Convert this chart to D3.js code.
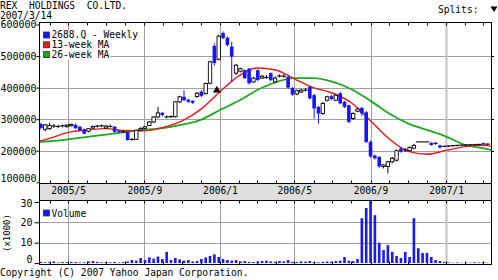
<!DOCTYPE html>
<html><head><meta charset="utf-8">
<script src="https://cdn.jsdelivr.net/npm/d3@7"></script>
<style>
body{margin:0;background:#fff;}
svg{display:block;}
text{font-family:"DejaVu Sans Mono","Liberation Mono",monospace;fill:#000;white-space:pre;}
</style>
</head><body>
<svg id="c" width="498" height="280"></svg>
<script>
// ---------------- data ----------------
const title = "REX  HOLDINGS  CO.LTD.";
const asOf = "2007/3/14";
const seriesName = "2688.Q - Weekly";
const firstWeek = new Date(2005, 2, 18);   // first weekly bar (Friday)
// weekly prices, thousand yen
const open = [285,268,270,277,278,277,276,279,282,276, 268,262,272,277,278,272,278,276,264,262,
  259,236,236,266,271,280,291,307,320,307, 307,308,355,371,362,358,372,387,381,414,
  532,490,573,558,530,446,452,455,460,418, 455,430,432,446,418,436,437,434,399,380,
  386,392,402,376,339,318,360,373,360,382, 355,344,302,325,336,322,228,185,180,150,
  150,165,170,207,200,200,208,228,228,228, 225,221,217,214,214,215,216,217,218,218,
  219,219,224,220];
const high = [288,285,288,285,282,283,284,286,286,279, 270,272,280,282,283,282,283,278,266,265,
  262,240,267,274,279,294,310,339,323,312, 312,357,374,392,364,360,386,392,416,485,
  540,568,578,562,545,475,463,458,462,434, 458,440,440,448,436,442,443,438,402,394,
  396,398,405,380,342,355,374,377,380,386, 358,346,322,336,338,326,232,188,183,158,
  168,180,204,212,208,214,222,228,228,228, 227,226,219,216,217,218,219,219,221,220,
  222,222,226,223];
const low = [268,262,266,272,272,274,274,277,270,263, 252,258,270,274,275,270,273,258,257,257,
  232,232,234,262,268,278,288,304,309,303, 304,305,352,358,352,348,368,370,378,410,
  470,486,553,530,418,440,448,428,410,415, 420,428,428,420,414,432,432,396,374,376,
  383,388,362,302,286,314,356,360,358,348, 335,288,298,322,310,224,178,172,146,144,
  128,160,166,194,196,197,205,228,228,228, 216,219,208,212,212,213,214,215,216,216,
  217,217,218,218];
const close = [272,282,280,278,277,279,281,283,271,265, 254,270,277,278,279,278,277,260,260,260,
  234,236,265,271,276,291,307,320,313,307, 308,355,371,360,355,352,382,374,413,482,
  478,563,557,535,498,471,460,430,414,430, 424,436,432,424,430,437,436,400,378,390,
  392,392,366,334,318,350,371,364,376,350, 339,291,318,332,318,228,182,176,150,155,
  165,176,200,197,203,210,217,228,228,228, 218,224,210,214,215,216,217,218,218,219,
  219,220,219,221];
// volume, thousand shares
const volume = [0.6,0.4,0.5,0.8,0.3,0.5,0.4,0.6, 0.5,0.3,0.4,0.8,1.0,0.6,0.4,0.5,
  0.4,0.6,0.3,0.5,0.8,1.5,1.2,2.5, 1.5,2.8,2.2,3.2,2.0,5.5,1.5,2.5,
  1.8,1.2,1.5,0.8,1.0,2.0,2.8,3.5, 4.3,3.0,2.0,1.5,1.2,1.5,0.8,1.0,
  0.6,0.5,0.8,1.0,1.2,0.8,0.6,1.0, 0.8,1.5,0.6,0.5,0.8,0.7,1.0,0.5,
  0.4,0.6,0.8,0.7, 1.0,1.2,3.0, 1.2,1.0,2.0,22,27,34,23.5,10,
  6.4,8.8,5.5,3.5,2.5,5.5,3.0,22, 7.3,5.0,5.0,3.0,1.5,1.0,0.5,0.3,
  0.2,0.3,0.2,0.3,0.2,0.4,0.3,0.5,0.2];
// moving averages, thousand yen
const maDates = ["2005-03-15","2005-04-01","2005-05-01","2005-06-01","2005-07-01","2005-08-01","2005-09-01",
  "2005-10-01","2005-11-01","2005-12-01","2006-01-01","2006-02-01","2006-03-01","2006-04-01","2006-05-01",
  "2006-06-01","2006-07-01","2006-08-01","2006-09-01","2006-10-01","2006-11-01","2006-12-01","2007-01-01",
  "2007-02-01","2007-03-01","2007-03-16"];
const ma13 = [230,239,258,266,270,264,263,274,295,331,387,438,462,456,428,400,383,352,295,238,198,189,201,213,217,214];
const ma26 = [228,230,236,244,251,259,266,272,283,298,329,359,391,417,430,430,419,395,358,318,286,266,245,218,208,202];
const splitDates = ["2005-12-27"];
const splitPrices = [392];
const priceTicks = [100,200,300,400,500,600];
const priceTickLabels = ["100000","200000","300000","400000","500000","600000"];
const volumeTicks = [0,10,20,30];
const dateTicks = ["2005-05-01","2005-09-01","2006-01-01","2006-05-01","2006-09-01","2007-01-01"];
const dateLabels = ["2005/5","2005/9","2006/1","2006/5","2006/9","2007/1"];
const legendNames = [seriesName, "13-week MA", "26-week MA"];
const colors = {down:"#1515f5", up:"#ffffff", ma13:"#e81818", ma26:"#1fa81f", vol:"#1a1af0"};

// ---------------- chart ----------------
const pd = d3.timeParse("%Y-%m-%d");
const svg = d3.select("#c");
const L = 39, R = 492, PT = 22.5, PB = 183.5, BB = 200.5, VB = 264.5;
const x = d3.scaleTime().domain([new Date(2005,2,15), new Date(2007,2,16)]).range([L, R]);
const y = d3.scaleLinear().domain([100, 600]).range([182.3, 24.5]);
const yv = d3.scaleLinear().domain([0, 30]).range([263.1, 201.9]);
const weekDate = i => d3.timeDay.offset(firstWeek, 7 * i);
const bars = open.map((o, i) => ({d: weekDate(i), o, h: high[i], l: low[i], c: close[i], v: volume[i]}));

svg.append("defs").append("clipPath").attr("id","vclip")
  .append("rect").attr("x", L).attr("y", BB).attr("width", R - L).attr("height", VB - BB);

// date band
svg.append("rect").attr("x", L).attr("y", PB).attr("width", R - L).attr("height", BB - PB).attr("fill", "#dedede");

// grid
const grid = svg.append("g");
grid.selectAll(".hg").data(priceTicks.filter(v => v > 100 && v < 600)).join("line")
  .attr("x1", L).attr("x2", R + 2)
  .attr("y1", d => Math.round(y(d)) + 0.5).attr("y2", d => Math.round(y(d)) + 0.5)
  .attr("stroke", "#a0a0a0");
grid.selectAll(".vhg").data([10, 20]).join("line")
  .attr("x1", L).attr("x2", R)
  .attr("y1", d => Math.round(yv(d)) + 0.5).attr("y2", d => Math.round(yv(d)) + 0.5)
  .attr("stroke", "#a0a0a0");
dateTicks.forEach((s, k) => {
  const xx = Math.round(x(pd(s))) + 0.5;
  const last = k === dateTicks.length - 1;
  [[PT, PB], [BB, VB]].forEach(([a, b]) => {
    grid.append("line").attr("x1", xx).attr("x2", xx).attr("y1", a).attr("y2", b)
      .attr("stroke", last ? "#c4c4c4" : "#a0a0a0").attr("stroke-width", last ? 2 : 1);
  });
});

// monthly ticks
const months = d3.timeMonth.range(new Date(2005,3,1), new Date(2007,2,17));
const tk = svg.append("g").attr("stroke", "#000");
months.forEach(m => {
  const xx = Math.round(x(m)) + 0.5;
  tk.append("line").attr("x1", xx).attr("x2", xx).attr("y1", PT).attr("y2", PT + 3);
  tk.append("line").attr("x1", xx).attr("x2", xx).attr("y1", PB - 3).attr("y2", PB);
  tk.append("line").attr("x1", xx).attr("x2", xx).attr("y1", BB).attr("y2", BB + 3);
  tk.append("line").attr("x1", xx).attr("x2", xx).attr("y1", VB - 3).attr("y2", VB);
});

// MA lines
const maLine = vals => d3.line().x((d, i) => x(pd(maDates[i]))).y(d => y(d)).curve(d3.curveMonotoneX)(vals);
svg.append("path").attr("d", maLine(ma26)).attr("fill", "none").attr("stroke", colors.ma26).attr("stroke-width", 1.8);
svg.append("path").attr("d", maLine(ma13)).attr("fill", "none").attr("stroke", colors.ma13).attr("stroke-width", 1.4);

// candles
const cg = svg.append("g");
bars.forEach(b => {
  const cx = x(b.d);
  const isUp = b.c > b.o, isFlat = Math.abs(y(b.o) - y(b.c)) < 1;
  const col = (isUp || isFlat) ? "#000" : colors.down;
  cg.append("line").attr("x1", cx).attr("x2", cx).attr("y1", y(b.h)).attr("y2", y(b.l))
    .attr("stroke", col).attr("stroke-width", 1);
  if (isFlat) {
    cg.append("line").attr("x1", cx - 2.2).attr("x2", cx + 2.2).attr("y1", y(b.c)).attr("y2", y(b.c))
      .attr("stroke", "#000").attr("stroke-width", 1.1);
  } else if (isUp) {
    cg.append("rect").attr("x", cx - 1.7).attr("width", 3.4)
      .attr("y", y(b.c)).attr("height", y(b.o) - y(b.c))
      .attr("fill", colors.up).attr("stroke", "#000").attr("stroke-width", 0.9);
  } else {
    cg.append("rect").attr("x", cx - 1.8).attr("width", 3.6)
      .attr("y", y(b.o)).attr("height", y(b.c) - y(b.o)).attr("fill", colors.down);
  }
});

// split marker
splitDates.forEach((s, i) => {
  svg.append("path").attr("d", d3.symbol(d3.symbolTriangle, 26)())
    .attr("transform", `translate(${x(pd(s))},${y(splitPrices[i])})`).attr("fill", "#000");
});

// volume bars
svg.append("g").attr("clip-path", "url(#vclip)").selectAll("rect").data(bars).join("rect")
  .attr("x", d => x(d.d) - 1.3).attr("width", 2.6)
  .attr("y", d => yv(d.v)).attr("height", d => yv(0) - yv(d.v))
  .attr("fill", colors.vol);

// frames
const fr = svg.append("g").attr("fill", "none").attr("stroke", "#000");
fr.append("rect").attr("x", L + 0.5).attr("y", PT).attr("width", R - L - 1).attr("height", PB - PT);
fr.append("rect").attr("x", L + 0.5).attr("y", PB).attr("width", R - L - 1).attr("height", BB - PB);
fr.append("rect").attr("x", L + 0.5).attr("y", BB).attr("width", R - L - 1).attr("height", VB - BB);

// price axis
const ya = svg.append("g").attr("transform", `translate(${L + 0.5},0)`)
  .call(d3.axisLeft(y).tickValues(priceTicks).tickSize(3).tickPadding(0)
    .tickFormat((d, i) => priceTickLabels[i]));
ya.select(".domain").remove();
ya.selectAll("text").style("font-size", "10px").attr("dy", "0.34em")
  .attr("y", function(d){ return d === 100 ? -4 : 0; });
ya.selectAll("text").style("font-family", '"DejaVu Sans Mono", monospace');

// right ticks
svg.append("g").selectAll("line").data(priceTicks.filter(v => v > 100 && v < 600)).join("line")
  .attr("x1", R - 0.5).attr("x2", R + 2).attr("y1", d => Math.round(y(d)) + 0.5).attr("y2", d => Math.round(y(d)) + 0.5)
  .attr("stroke", "#000");

// volume axis
const va = svg.append("g").attr("transform", `translate(${L + 0.5},0)`)
  .call(d3.axisLeft(yv).tickValues(volumeTicks).tickSize(5).tickPadding(2));
va.select(".domain").remove();
va.selectAll("text").style("font-size", "10px").style("font-family", '"DejaVu Sans Mono", monospace')
  .attr("y", d => d === 0 ? -3.5 : (d === 30 ? 1.5 : 0));

// date labels
const xa = svg.append("g").attr("transform", `translate(0,${PB})`)
  .call(d3.axisBottom(x).tickValues(dateTicks.map(pd)).tickSize(0).tickPadding(4)
    .tickFormat((d, i) => dateLabels[i]));
xa.select(".domain").remove();
xa.selectAll("text").style("font-size", "9.6px").style("font-family", '"DejaVu Sans Mono", monospace');

// titles
svg.append("text").attr("x", 0).attr("y", 9).attr("xml:space", "preserve").style("font-size", "9.6px").text(title);
svg.append("text").attr("x", 0).attr("y", 18.5).style("font-size", "9.6px").text(asOf);
svg.append("text").attr("x", 438).attr("y", 13).style("font-size", "9.6px").text("Splits:");
svg.append("path").attr("d", "M490.5,6.5 L497.5,6.5 L494,12 Z").attr("fill", "#000");

// legend
const lg = svg.append("g");
const legCols = [colors.down, colors.ma13, colors.ma26];
legendNames.forEach((n, k) => {
  const cy = 35 + k * 9.8;
  const bg = lg.append("rect").attr("x", 41).attr("y", cy - 5).attr("height", 10).attr("fill", "#fff");
  const t = lg.append("text").attr("x", 51.5).attr("y", cy + 3.4).style("font-size", "9.6px").text(n);
  bg.attr("width", 51.5 - 41 + t.node().getComputedTextLength() + 1);
  lg.append("rect").attr("x", 43.5).attr("y", cy - 3).attr("width", 6).attr("height", 6)
    .attr("fill", legCols[k]).attr("stroke", "#333").attr("stroke-width", 0.8);
});
lg.append("rect").attr("x", 43.5).attr("y", 210).attr("width", 6).attr("height", 6)
  .attr("fill", colors.vol).attr("stroke", "#333").attr("stroke-width", 0.8);
lg.append("text").attr("x", 51.5).attr("y", 216.5).style("font-size", "9.6px").text("Volume");

svg.append("text").attr("transform", "translate(10,233) rotate(-90)").attr("text-anchor", "middle")
  .style("font-size", "9px").text("(x1000)");
svg.append("text").attr("x", 0).attr("y", 276).style("font-size", "9.6px")
  .text("Copyright (C) 2007 Yahoo Japan Corporation.");
</script>
</body></html>
